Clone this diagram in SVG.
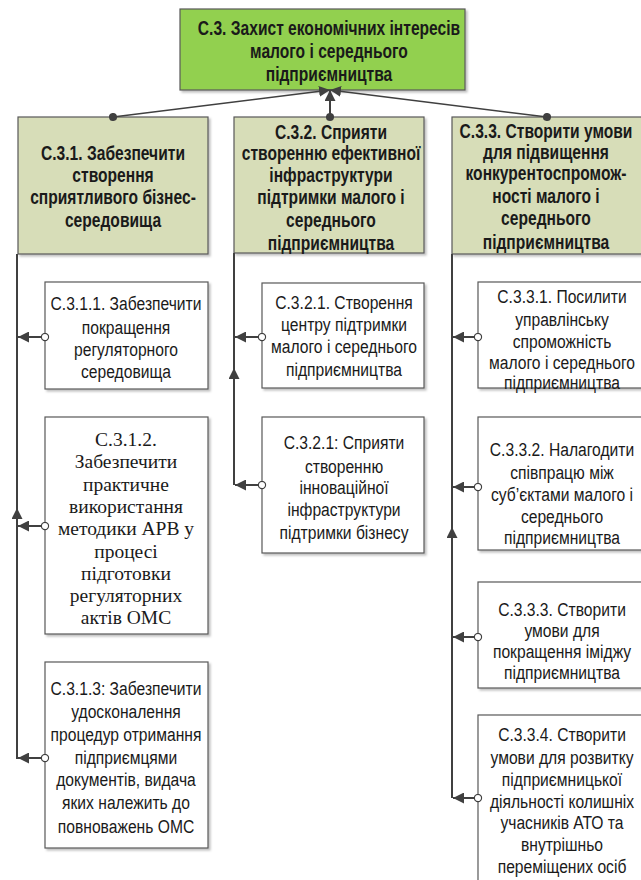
<svg xmlns="http://www.w3.org/2000/svg" width="641" height="880" viewBox="0 0 641 880">
<style>
.bx{stroke:#595959;stroke-width:1.2;}
.top{fill:#92D050;}
.hd{fill:#D7DDB8;}
.ch{fill:#FFFFFF;}
.b{font-family:"Liberation Sans",Arial,sans-serif;font-weight:bold;font-size:20px;fill:#1a1a1a;text-anchor:middle;}
.n{font-family:"Liberation Sans",Arial,sans-serif;font-size:19px;fill:#1a1a1a;text-anchor:middle;}
.s{font-family:"Liberation Serif","Times New Roman",serif;font-size:19.5px;fill:#1a1a1a;text-anchor:middle;}
.ln{fill:none;stroke:#404040;stroke-width:2;}
.tl{fill:none;stroke:#404040;stroke-width:1.5;}
</style>
<defs>
<filter id="sh" x="-5%" y="-5%" width="115%" height="115%">
<feDropShadow dx="2" dy="2" stdDeviation="1" flood-color="#000" flood-opacity="0.25"/>
</filter>
<marker id="arr" viewBox="0 0 10 10" refX="10" refY="5" markerWidth="11" markerHeight="11" markerUnits="userSpaceOnUse" orient="auto">
<path d="M0,0 L10,5 L0,10 z" fill="#404040"/>
</marker>
<marker id="dot" viewBox="0 0 10 10" refX="5" refY="5" markerWidth="9" markerHeight="9" markerUnits="userSpaceOnUse" orient="auto">
<circle cx="5" cy="5" r="4.5" fill="#404040"/>
</marker>
<marker id="oc" viewBox="0 0 10 10" refX="5" refY="5" markerWidth="9" markerHeight="9" markerUnits="userSpaceOnUse" orient="auto">
<circle cx="5" cy="5" r="4" fill="#fff" stroke="#404040" stroke-width="1.3"/>
</marker>
</defs>

<g id="c3">
<rect class="bx top" x="180" y="9" width="285" height="81" filter="url(#sh)"/>
<text class="b" transform="translate(329,0) scale(0.78,1)"><tspan x="0" y="35">С.3. Захист економічних інтересів</tspan><tspan x="0" y="58">малого і середнього</tspan><tspan x="0" y="81">підприємництва</tspan></text>
</g>

<g id="c31">
<rect class="bx hd" x="18" y="117" width="190" height="137" filter="url(#sh)"/>
<text class="b" transform="translate(113,0) scale(0.78,1)"><tspan x="0" y="160">С.3.1. Забезпечити</tspan><tspan x="0" y="182">створення</tspan><tspan x="0" y="204">сприятливого бізнес-</tspan><tspan x="0" y="227">середовища</tspan></text>
</g>

<g id="c32">
<rect class="bx hd" x="234" y="117" width="190" height="136" filter="url(#sh)"/>
<text class="b" transform="translate(331,0) scale(0.78,1)"><tspan x="0" y="139">С.3.2. Сприяти</tspan><tspan x="0" y="160">створенню ефективної</tspan><tspan x="0" y="182">інфраструктури</tspan><tspan x="0" y="204">підтримки малого і</tspan><tspan x="0" y="227">середнього</tspan><tspan x="0" y="250">підприємництва</tspan></text>
</g>

<g id="c33">
<rect class="bx hd" x="452" y="117" width="195" height="137" filter="url(#sh)"/>
<text class="b" transform="translate(546,0) scale(0.78,1)"><tspan x="0" y="138">С.3.3. Створити умови</tspan><tspan x="0" y="159">для підвищення</tspan><tspan x="0" y="180">конкурентоспромож-</tspan><tspan x="0" y="203">ності малого і</tspan><tspan x="0" y="225">середнього</tspan><tspan x="0" y="249">підприємництва</tspan></text>
</g>

<g id="c311">
<rect class="bx ch" x="45" y="282" width="163" height="107" filter="url(#sh)"/>
<text class="n" transform="translate(126,0) scale(0.824,1)"><tspan x="0" y="310">С.3.1.1. Забезпечити</tspan><tspan x="0" y="334">покращення</tspan><tspan x="0" y="356">регуляторного</tspan><tspan x="0" y="378">середовища</tspan></text>
</g>

<g id="c312">
<rect class="bx ch" x="45" y="417" width="163" height="217" filter="url(#sh)"/>
<text class="s" x="126"><tspan x="126" y="446">С.3.1.2.</tspan><tspan x="126" y="468">Забезпечити</tspan><tspan x="126" y="491">практичне</tspan><tspan x="126" y="513">використання</tspan><tspan x="126" y="535">методики АРВ  у</tspan><tspan x="126" y="558">процесі</tspan><tspan x="126" y="580">підготовки</tspan><tspan x="126" y="602">регуляторних</tspan><tspan x="126" y="624">актів ОМС</tspan></text>
</g>

<g id="c313">
<rect class="bx ch" x="45" y="662" width="163" height="186" filter="url(#sh)"/>
<text class="n" transform="translate(126,0) scale(0.824,1)"><tspan x="0" y="695">С.3.1.3: Забезпечити</tspan><tspan x="0" y="718">удосконалення</tspan><tspan x="0" y="741">процедур отримання</tspan><tspan x="0" y="764">підприємцями</tspan><tspan x="0" y="786">документів, видача</tspan><tspan x="0" y="809">яких належить до</tspan><tspan x="0" y="833">повноважень ОМС</tspan></text>
</g>

<g id="c321">
<rect class="bx ch" x="262" y="283" width="162" height="105" filter="url(#sh)"/>
<text class="n" transform="translate(344,0) scale(0.824,1)"><tspan x="0" y="309">С.3.2.1. Створення</tspan><tspan x="0" y="331">центру підтримки</tspan><tspan x="0" y="353">малого і середнього</tspan><tspan x="0" y="376">підприємництва</tspan></text>
</g>

<g id="c322">
<rect class="bx ch" x="262" y="417" width="162" height="136" filter="url(#sh)"/>
<text class="n" transform="translate(344,0) scale(0.824,1)"><tspan x="0" y="449">С.3.2.1: Сприяти</tspan><tspan x="0" y="473">створенню</tspan><tspan x="0" y="494">інноваційної</tspan><tspan x="0" y="516">інфраструктури</tspan><tspan x="0" y="539">підтримки бізнесу</tspan></text>
</g>

<g id="c331">
<rect class="bx ch" x="478" y="282" width="167" height="106" filter="url(#sh)"/>
<text class="n" transform="translate(562,0) scale(0.824,1)"><tspan x="0" y="303">С.3.3.1. Посилити</tspan><tspan x="0" y="326">управлінську</tspan><tspan x="0" y="348">спроможність</tspan><tspan x="0" y="369">малого і середнього</tspan><tspan x="0" y="389">підприємництва</tspan></text>
</g>

<g id="c332">
<rect class="bx ch" x="478" y="417" width="167" height="133" filter="url(#sh)"/>
<text class="n" transform="translate(562,0) scale(0.824,1)"><tspan x="0" y="456">С.3.3.2. Налагодити</tspan><tspan x="0" y="479">співпрацю між</tspan><tspan x="0" y="501">суб’єктами малого і</tspan><tspan x="0" y="523">середнього</tspan><tspan x="0" y="544">підприємництва</tspan></text>
</g>

<g id="c333">
<rect class="bx ch" x="478" y="582" width="167" height="106" filter="url(#sh)"/>
<text class="n" transform="translate(562,0) scale(0.824,1)"><tspan x="0" y="616">С.3.3.3. Створити</tspan><tspan x="0" y="637">умови для</tspan><tspan x="0" y="658">покращення іміджу</tspan><tspan x="0" y="679">підприємництва</tspan></text>
</g>

<g id="c334">
<rect class="bx ch" x="478" y="715" width="167" height="175" filter="url(#sh)"/>
<text class="n" transform="translate(562,0) scale(0.824,1)"><tspan x="0" y="741">С.3.3.4. Створити</tspan><tspan x="0" y="764">умови для розвитку</tspan><tspan x="0" y="786">підприємницької</tspan><tspan x="0" y="808">діяльності колишніх</tspan><tspan x="0" y="829">учасників АТО та</tspan><tspan x="0" y="851">внутрішньо</tspan><tspan x="0" y="873">переміщених осіб</tspan></text>
</g>

<g id="connectors">
<path class="tl" d="M113,117 L330,90" marker-start="url(#dot)" marker-end="url(#arr)"/>
<path class="tl" d="M547,117 L330,90" marker-start="url(#dot)" marker-end="url(#arr)"/>
<path class="ln" d="M330,117 L330,90" marker-start="url(#dot)" marker-end="url(#arr)"/>

<path class="ln" d="M17,759 L17,508" marker-end="url(#arr)"/>
<path class="ln" d="M17,508 L17,254"/>
<path class="ln" d="M45,337 L18,337" marker-start="url(#oc)" marker-end="url(#arr)"/>
<path class="ln" d="M45,526 L18,526" marker-start="url(#oc)" marker-end="url(#arr)"/>
<path class="ln" d="M45,758 L18,758" marker-start="url(#oc)" marker-end="url(#arr)"/>

<path class="ln" d="M234,485 L234,368" marker-end="url(#arr)"/>
<path class="ln" d="M234,368 L234,253"/>
<path class="ln" d="M262,337 L235,337" marker-start="url(#oc)" marker-end="url(#arr)"/>
<path class="ln" d="M262,485 L235,485" marker-start="url(#oc)" marker-end="url(#arr)"/>

<path class="ln" d="M452,798 L452,527" marker-end="url(#arr)"/>
<path class="ln" d="M452,527 L452,254"/>
<path class="ln" d="M478,337 L453,337" marker-start="url(#oc)" marker-end="url(#arr)"/>
<path class="ln" d="M478,487 L453,487" marker-start="url(#oc)" marker-end="url(#arr)"/>
<path class="ln" d="M478,637 L453,637" marker-start="url(#oc)" marker-end="url(#arr)"/>
<path class="ln" d="M478,798 L453,798" marker-start="url(#oc)" marker-end="url(#arr)"/>
</g>
</svg>
